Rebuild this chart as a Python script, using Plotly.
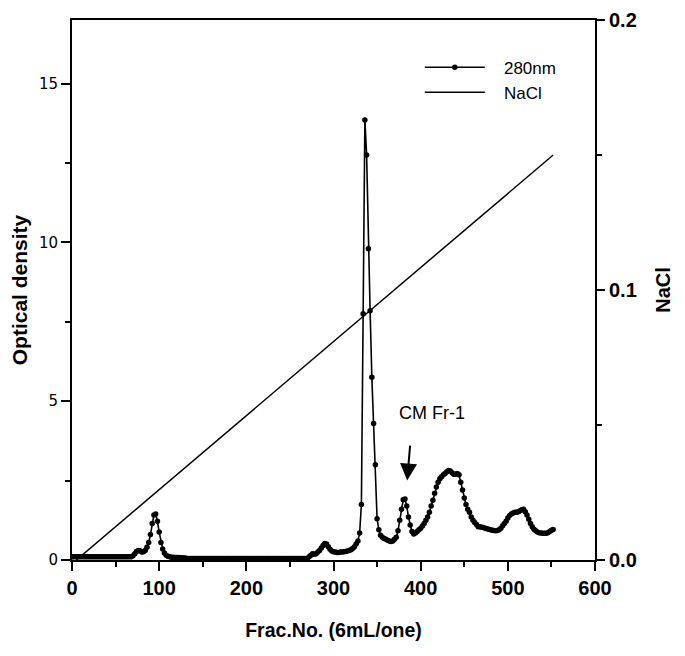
import plotly.graph_objects as go

# ---- data ----
frac = list(range(0, 554, 2))
od280 = [
    0.1, 0.1, 0.1, 0.1, 0.1, 0.1, 0.1, 0.1, 0.1, 0.1,   # 0-18
    0.1, 0.1, 0.1, 0.1, 0.1, 0.1, 0.1, 0.1, 0.1, 0.1,   # 20-38
    0.1, 0.1, 0.1, 0.1, 0.1, 0.1, 0.1, 0.1, 0.1, 0.1,   # 40-58
    0.1, 0.1, 0.1, 0.1, 0.1,                            # 60-68
    0.13, 0.2, 0.27, 0.3, 0.29, 0.25, 0.26, 0.3, 0.4, 0.55,   # 70-88
    0.8, 1.15, 1.42, 1.45, 1.22, 0.88, 0.55, 0.35, 0.22, 0.15,  # 90-108
    0.12, 0.1, 0.09, 0.09, 0.08, 0.08, 0.08, 0.07, 0.07, 0.06,  # 110-128
    0.06, 0.05, 0.05, 0.05, 0.05, 0.05, 0.05, 0.05, 0.05, 0.05,  # 130-148
    0.05, 0.05, 0.05, 0.05, 0.05, 0.05, 0.05, 0.05, 0.05, 0.05,  # 150-168
    0.05, 0.05, 0.05, 0.05, 0.05, 0.05, 0.05, 0.05, 0.05, 0.05,  # 170-188
    0.05, 0.05, 0.05, 0.05, 0.05, 0.05, 0.05, 0.05, 0.05, 0.05,  # 190-208
    0.05, 0.05, 0.05, 0.05, 0.05, 0.05, 0.05, 0.05, 0.05, 0.05,  # 210-228
    0.05, 0.05, 0.05, 0.05, 0.05, 0.05, 0.05, 0.05, 0.05, 0.05,  # 230-248
    0.05, 0.05, 0.05, 0.05, 0.05, 0.05, 0.05, 0.05, 0.05, 0.05,  # 250-268
    0.05, 0.1, 0.15, 0.2, 0.18, 0.2, 0.25, 0.3, 0.38, 0.46,      # 270-288
    0.52, 0.5, 0.42, 0.34, 0.28, 0.26, 0.25, 0.24, 0.24, 0.25,   # 290-308
    0.25, 0.26, 0.27, 0.28, 0.3, 0.32, 0.36, 0.42, 0.5, 0.6,     # 310-328
    0.85, 1.75, 7.75, 13.85, 12.75, 9.8, 7.85, 5.75, 4.3, 3.0,   # 330-348
    1.3, 0.95, 0.78, 0.72, 0.68, 0.65, 0.62, 0.6, 0.58, 0.6,     # 350-368
    0.65, 0.72, 0.92, 1.25, 1.6, 1.9, 1.92, 1.7, 1.35, 1.1,      # 370-388
    0.9, 0.82, 0.85, 0.9, 0.95, 1.0, 1.07, 1.15, 1.25, 1.35,     # 390-408
    1.5, 1.7, 1.88, 2.1, 2.3, 2.45, 2.56, 2.62, 2.68, 2.72,      # 410-428
    2.78, 2.82, 2.8, 2.75, 2.7, 2.7, 2.72, 2.68, 2.45, 2.2,      # 430-448
    1.95, 1.75, 1.6, 1.5, 1.35, 1.25, 1.18, 1.12, 1.05, 1.05,    # 450-468
    1.03, 1.02, 1.0, 0.98, 0.97, 0.95, 0.94, 0.93, 0.92, 0.93,   # 470-488
    0.95, 1.0, 1.08, 1.15, 1.22, 1.32, 1.4, 1.45, 1.48, 1.5,     # 490-508
    1.5, 1.52, 1.55, 1.58, 1.6, 1.52, 1.42, 1.28, 1.15, 1.05,    # 510-528
    0.97, 0.92, 0.88, 0.86, 0.85, 0.84, 0.84, 0.84, 0.86, 0.9,   # 530-548
    0.94, 0.96,                                                  # 550-552
]
nacl_frac = [5, 552]
nacl_conc = [0.0, 0.15]

x_ticks = [0, 100, 200, 300, 400, 500, 600]
y_ticks = [0, 5, 10, 15]
y2_ticks = [0.0, 0.1, 0.2]

FONT = "Liberation Sans"
PAD = "\u00a0\u00a0\u00a0"

fig = go.Figure()
fig.add_trace(go.Scatter(
    x=frac, y=od280, name=PAD + "280nm", mode="lines+markers",
    line=dict(color="black", width=1.6),
    marker=dict(color="black", size=5.5),
    yaxis="y",
))
fig.add_trace(go.Scatter(
    x=nacl_frac, y=nacl_conc, name=PAD + "NaCl", mode="lines",
    line=dict(color="black", width=1.5),
    yaxis="y2",
))

fig.add_annotation(
    x=413, y=4.63, xref="x", yref="y", text="CM Fr-1", showarrow=False,
    font=dict(family=FONT, size=18, color="black"),
)
fig.add_annotation(
    x=384.5, y=2.5, xref="x", yref="y", ax=388, ay=3.65, axref="x", ayref="y",
    text="", showarrow=True, arrowhead=2, arrowsize=1.7, arrowwidth=2, arrowcolor="black",
)

fig.update_layout(
    width=669, height=640,
    margin=dict(l=64, r=82, t=12, b=88, autoexpand=False),
    paper_bgcolor="white", plot_bgcolor="white",
    showlegend=True,
    legend=dict(
        x=0.665, y=0.945, xanchor="left", yanchor="top",
        bgcolor="rgba(0,0,0,0)", itemwidth=60,
        font=dict(family=FONT, size=17, color="black"),
        tracegroupgap=0,
    ),
    xaxis=dict(
        range=[0, 600], tickvals=x_ticks, automargin=False,
        showline=True, linecolor="black", linewidth=2, mirror=True,
        ticks="outside", ticklen=9, tickwidth=1.5, tickcolor="black",
        minor=dict(dtick=50, ticks="outside", ticklen=5, tickwidth=1.5, tickcolor="black"),
        showgrid=False, zeroline=False,
        tickfont=dict(family=FONT, size=20, color="black", weight="bold"),
        title=dict(text="Frac.No. (6mL/one)", standoff=25,
                   font=dict(family=FONT, size=19.5, color="black", weight="bold")),
    ),
    yaxis=dict(
        range=[0, 17], tickvals=y_ticks, automargin=False,
        showline=True, linecolor="black", linewidth=2,
        ticks="outside", ticklen=9, tickwidth=1.5, tickcolor="black",
        minor=dict(dtick=2.5, ticks="outside", ticklen=5, tickwidth=1.5, tickcolor="black"),
        showgrid=False, zeroline=False,
        tickfont=dict(family="DejaVu Sans", size=15, color="black"),
        title=dict(text="Optical density", standoff=8,
                   font=dict(family=FONT, size=21, color="black", weight="bold")),
    ),
    yaxis2=dict(
        range=[0, 0.2], tickvals=y2_ticks, tickformat=".1f", automargin=False,
        overlaying="y", side="right",
        showline=True, linecolor="black", linewidth=2,
        ticks="outside", ticklen=8, tickwidth=1.5, tickcolor="black",
        minor=dict(dtick=0.05, ticks="outside", ticklen=5, tickwidth=1.5, tickcolor="black"),
        showgrid=False, zeroline=False,
        tickfont=dict(family=FONT, size=20, color="black", weight="bold"),
        title=dict(text="NaCl", standoff=20,
                   font=dict(family=FONT, size=20, color="black", weight="bold")),
    ),
)

fig.write_html("out.html")
